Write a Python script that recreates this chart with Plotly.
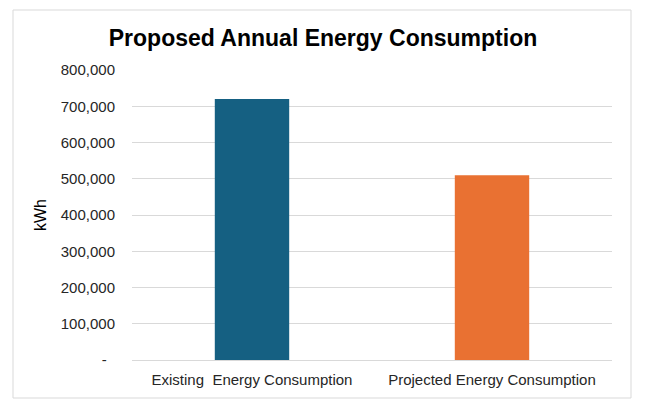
import plotly.graph_objects as go

categories = ["Existing  Energy Consumption", "Projected Energy Consumption"]
values = [720000, 510000]
colors = ["#156082", "#E97132"]
tick_vals = [0, 100000, 200000, 300000, 400000, 500000, 600000, 700000, 800000]
tick_text = ["-\u2007", "100,000", "200,000", "300,000", "400,000", "500,000", "600,000", "700,000", "800,000"]

# page is offset by 8px body margin; figure sized accordingly
W, H = 639, 403
L, R, T, B = 124, 35, 62, 51
pw, ph = W - L - R, H - T - B

fig = go.Figure(go.Bar(x=categories, y=values, marker=dict(color=colors, line=dict(width=0)), width=0.31))

fig.update_layout(
    width=W, height=H,
    margin=dict(l=L, r=R, t=T, b=B),
    paper_bgcolor="white", plot_bgcolor="white",
    font=dict(family="Liberation Sans, Arial, sans-serif", color="#262626", size=15),
    title=dict(text="<b>Proposed Annual Energy Consumption</b>", x=(315 - L) / pw, xref="paper", xanchor="center",
               y=1 - 30 / H, yanchor="middle", font=dict(size=23, color="black")),
    showlegend=False,
    shapes=[dict(type="rect", xref="paper", yref="paper", x0=(5 - L) / pw, x1=(623 - L) / pw,
                 y0=-(390 - (H - B)) / ph, y1=((H - B) - 2) / ph, line=dict(color="#d9d9d9", width=1), layer="below")],
)
fig.update_yaxes(range=[0, 800000], tickvals=tick_vals, ticktext=tick_text, showgrid=True,
                 gridcolor="#d9d9d9", gridwidth=1, zeroline=False, showline=False, ticks="",
                 ticklabelstandoff=16,
                 title=dict(text="kWh", font=dict(size=16, color="black"), standoff=10),
                 tickfont=dict(size=15, color="#262626"))
fig.update_xaxes(showline=True, linecolor="#d9d9d9", linewidth=1, ticks="", ticklabelstandoff=6,
                 tickfont=dict(size=15, color="#262626"))

fig.write_html("out.html")
